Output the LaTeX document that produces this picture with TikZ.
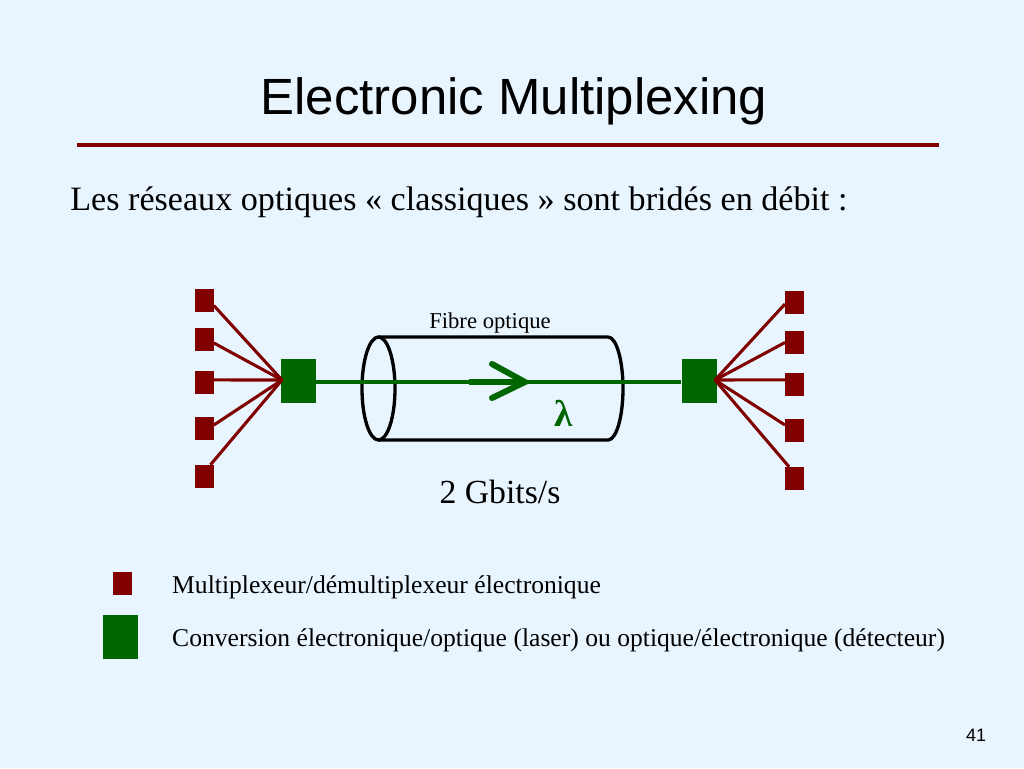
\documentclass[tikz,border=0pt]{standalone}
\usepackage{xcolor}
\usepackage{fontspec}
\setmainfont{Liberation Serif}
\newfontfamily\arialfont{Liberation Sans}
\usetikzlibrary{arrows.meta, calc, positioning}
\definecolor{slidebg}{HTML}{E8F5FF}
\definecolor{muxred}{HTML}{800000}
\definecolor{optgreen}{HTML}{006600}
\begin{document}
\begin{tikzpicture}[
    x=0.75pt, y=-0.75pt,
    muxbox/.style={fill=muxred, inner sep=0pt, minimum width=13.9pt, minimum height=17.25pt},
    convbox/.style={fill=optgreen, inner sep=0pt, minimum width=26.25pt, minimum height=33pt},
    fanline/.style={muxred, line width=2.3pt},
    fibreline/.style={optgreen, line width=2.6pt},
    tubeline/.style={black, line width=2.5pt},
    body/.style={anchor=base west, font=\fontsize{25.6pt}{30pt}\selectfont},
    small/.style={font=\fontsize{17pt}{20pt}\selectfont},
    legend/.style={anchor=base west, font=\fontsize{19.2pt}{23pt}\selectfont},
]
% Background
\fill[slidebg] (0, 0) rectangle (1024, 768);
\useasboundingbox (0, 0) rectangle (1024, 768);

% Title and rule
\node[font=\arialfont\fontsize{38.2pt}{44pt}\selectfont] (title) at (514, 101) {Electronic Multiplexing};
\coordinate (ruleL) at (77, 145);
\coordinate (ruleR) at (939, 145);
\draw[muxred, line width=3pt] (ruleL) -- (ruleR);
\node[body] (intro) at (65.6, 210) {Les réseaux optiques « classiques » sont bridés en débit :};

% Tube
\draw[tubeline] (378.5, 337) -- (608, 337) arc[start angle=-90, end angle=90, x radius=15, y radius=51.5] -- (378.5, 440);
\draw[tubeline] (378.5, 388.5) ellipse [x radius=16.5, y radius=51.5];
\node[small] (fibrelabel) at (490, 323) {Fibre optique};

% Converters
\node[convbox] (convL) at (298.5, 381) {};
\node[convbox] (convR) at (699, 381) {};
\coordinate (apexL) at (282, 380);
\coordinate (apexR) at (715, 380);
\draw[fibreline] ([yshift=-0.75pt]convL.east) -- ([yshift=-0.75pt]convR.west);

% Multiplexers and fans
\foreach \name/\y/\ang in {1/300/-30, 2/339.5/-20, 3/382.5/15.098, 4/428.5/20, 5/476.5/62} {
    \node[muxbox] (muxL\name) at (204.25, \y) {};
    \draw[fanline] (muxL\name.\ang) -- (apexL);
}
\foreach \name/\y/\ang in {1/302.5/189, 2/342.5/180, 3/384.5/154.1, 4/430.5/150, 5/478.5/115} {
    \node[muxbox] (muxR\name) at (794.5, \y) {};
    \draw[fanline] (muxR\name.\ang) -- (apexR);
}

% Arrow on the fibre
\coordinate (arrowtail) at (469, 382);
\coordinate (arrowtip) at (525, 382);
\coordinate (barbT) at (492, 364);
\coordinate (barbB) at (492, 398);
\draw[optgreen, line width=4.5pt, line cap=round, line join=miter] (barbT) -- (arrowtip) -- (barbB);
\draw[optgreen, line width=4.5pt] (arrowtail) -- (arrowtip);
\node[text=optgreen, font=\fontsize{28pt}{32pt}\selectfont\bfseries] (lambda) at (564, 413) {λ};

\node[font=\fontsize{25.3pt}{30pt}\selectfont] (rate) at (500, 492) {2 Gbits/s};

% Legend
\node[muxbox] (keymux) at (122.5, 583.5) {};
\node[convbox] (keyconv) at (120.5, 637) {};
\node[legend] (keymuxtext) at (167.5, 593) {Multiplexeur/démultiplexeur électronique};
\node[legend] (keyconvtext) at (167.5, 646) {Conversion électronique/optique (laser) ou optique/électronique (détecteur)};

% Page number
\node[font=\arialfont\fontsize{13.5pt}{16pt}\selectfont] (pagenum) at (976, 735) {41};
\end{tikzpicture}
\end{document}
